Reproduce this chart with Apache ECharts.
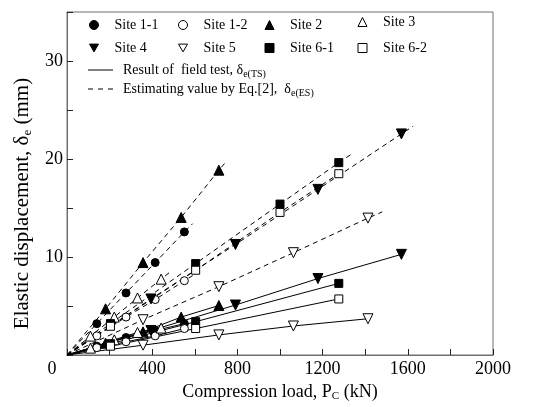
<!DOCTYPE html>
<html><head><meta charset="utf-8">
<script src="https://cdn.jsdelivr.net/npm/echarts@6/dist/echarts.min.js"></script>
<style>html,body{margin:0;padding:0;background:#fff}#c{width:546px;height:407px}</style>
</head><body><div id="c"></div>
<script>
// ---- data ----
const siteNames = ['Site 1-1','Site 1-2','Site 2','Site 3','Site 4','Site 5','Site 6-1','Site 6-2'];
const xTickLabels = [400, 800, 1200, 1600, 2000];
const yTickLabels = [10, 20, 30];

// Estimating value by Eq.[2] (dashed)
const esLoads11 = [140, 277, 414, 551];   const es11 = [3.2, 6.33, 9.43, 12.56];
const esLoads12 = [140, 277, 414, 551];   const es12 = [1.95, 3.87, 5.66, 7.58];
const esLoads2  = [181, 357, 536, 713];   const es2  = [4.71, 9.43, 14.04, 18.86];
const esLoads3  = [110, 222, 331, 442];   const es3  = [1.93, 3.87, 5.82, 7.74];
const esLoads4  = [394, 791, 1178, 1570]; const es4  = [5.72, 11.28, 16.9, 22.56];
const esLoads5  = [357, 713, 1063, 1413]; const es5  = [3.6, 6.97, 10.44, 13.97];
const esLoads61 = [204, 604, 1000, 1276]; const es61 = [3.2, 9.33, 15.4, 19.63];
const esLoads62 = [204, 604, 1000, 1276]; const es62 = [2.93, 8.65, 14.55, 18.5];
// end of each dashed line (slightly beyond last point)
const esEndLoad = [590, 590, 750, 480, 1625, 1480, 1343, 1290];
const esEndVal  = [13.4, 8.1, 19.8, 8.4, 23.35, 14.6, 20.6, 18.7];

// Result of field test (solid)
const tsLoads11 = [140, 277, 414, 551];   const ts11 = [0.9, 1.78, 2.5, 3.2];
const tsLoads12 = [140, 277, 414, 551];   const ts12 = [0.75, 1.35, 1.95, 2.7];
const tsLoads2  = [181, 357, 536, 713];   const ts2  = [1.2, 2.36, 3.87, 5.05];
const tsLoads3  = [110, 222, 331, 442];   const ts3  = [0.7, 1.55, 2.3, 2.75];
const tsLoads4  = [394, 791, 1178, 1570]; const ts4  = [2.5, 5.1, 7.8, 10.27];
const tsLoads5  = [357, 713, 1063, 1413]; const ts5  = [1.0, 2.05, 2.96, 3.7];
const tsLoads61 = [204, 604, 1276];       const ts61 = [1.15, 3.4, 7.31];
const tsLoads62 = [204, 604, 1276];       const ts62 = [0.9, 2.7, 5.72];

const esLoads = [esLoads11, esLoads12, esLoads2, esLoads3, esLoads4, esLoads5, esLoads61, esLoads62];
const esVals  = [es11, es12, es2, es3, es4, es5, es61, es62];
const tsLoads = [tsLoads11, tsLoads12, tsLoads2, tsLoads3, tsLoads4, tsLoads5, tsLoads61, tsLoads62];
const tsVals  = [ts11, ts12, ts2, ts3, ts4, ts5, ts61, ts62];

// ---- styles ----
const FONT = 'Liberation Serif';
const symbols = ['circle','circle','triangle','triangle','triangle','triangle','rect','rect'];
const filled  = [true,false,true,false,true,false,true,false];
const rotate  = [0,0,0,0,180,180,0,0];
const sizes   = [8,8,10,10,10,10,8,8];
const invTri = 'path://M0,0L10,0L5,8.66Z';
const legendIcons = ['circle','circle','triangle','triangle',invTri,invTri,'rect','rect'];
const lineIconSolid = 'path://M0,0h25v1h-25z';
const lineIconDash  = 'path://M0,0h5v1h-5zM10,0h5v1h-5zM20,0h5v1h-5z';

function itemStyleFor(i){
  return filled[i] ? {color:'#000', borderColor:'#000', borderWidth:1}
                   : {color:'#fff', borderColor:'#000', borderWidth:1};
}

const series = [];
for (let i = 0; i < siteNames.length; i++) {
  const es = [{value:[0,0], symbol:'none'}]
    .concat(esLoads[i].map((x,j)=>[x, esVals[i][j]]))
    .concat([{value:[esEndLoad[i], esEndVal[i]], symbol:'none'}]);
  const ts = [{value:[0,0], symbol:'none'}]
    .concat(tsLoads[i].map((x,j)=>[x, tsVals[i][j]]));
  const common = {
    type:'line', name: siteNames[i], symbol: symbols[i], symbolSize: sizes[i],
    symbolRotate: rotate[i], showAllSymbol: true, itemStyle: itemStyleFor(i),
    animation:false, z: 3
  };
  series.push(Object.assign({}, common, {data: es, lineStyle:{color:'#000', width:1, type:[5,4]}}));
  series.push(Object.assign({}, common, {data: ts, lineStyle:{color:'#000', width:1, type:'solid'}}));
}
series.push({type:'line', name:'TS', data:[], symbol:'none', itemStyle:{color:'#000'}, lineStyle:{color:'#000', width:1}});
series.push({type:'line', name:'ES', data:[], symbol:'none', itemStyle:{color:'#000'}, lineStyle:{color:'#000', width:1, type:[5,4]}});

const LFS = 14;
const subRich = {
  t:{fontFamily:FONT, fontSize:LFS, color:'#000', verticalAlign:'middle', padding:[0,0,0,5]},
  b:{fontFamily:FONT, fontSize:LFS, color:'#000', verticalAlign:'middle'},
  s:{fontFamily:FONT, fontSize:10, color:'#000', verticalAlign:'middle', padding:[8,0,0,0]}
};
const siteRich = {
  t:{fontFamily:FONT, fontSize:LFS, color:'#000', verticalAlign:'middle', padding:[0,0,0,11]}
};

const legendX = [89, 178, 264.5, 357.5];
const legendY = [18, 41];
const legends = [];
for (let i = 0; i < siteNames.length; i++) {
  const col = i % 4, row = Math.floor(i / 4);
  legends.push({
    left: legendX[col], top: legendY[row] - (i === 3 ? 3 : 0), padding: 0,
    itemWidth: 9, itemHeight: 9, selectedMode: false,
    data: [{name: siteNames[i], icon: legendIcons[i], itemStyle: itemStyleFor(i)}],
    formatter: n => '{t|' + n + '}',
    textStyle: {fontFamily: FONT, fontSize: LFS, color: '#000', rich: siteRich}
  });
}
legends.push({
  left: 88, top: 63, padding: 0, itemWidth: 25, itemHeight: 1, selectedMode:false,
  data: [{name:'TS', icon: lineIconSolid, itemStyle:{color:'#000', borderWidth:0}}],
  formatter: () => '{t|Result of  field test, δ}{s|e(TS)}',
  textStyle: {fontFamily: FONT, fontSize: LFS, color: '#000', rich: subRich}
});
legends.push({
  left: 88, top: 82, padding: 0, itemWidth: 25, itemHeight: 1, selectedMode:false,
  data: [{name:'ES', icon: lineIconDash, itemStyle:{color:'#000', borderWidth:0}}],
  formatter: () => '{t|Estimating value by Eq.[2],  δ}{s|e(ES)}',
  textStyle: {fontFamily: FONT, fontSize: LFS, color: '#000', rich: subRich}
});

const xRich = {
  b:{fontFamily:FONT, fontSize:18, color:'#000', verticalAlign:'middle'},
  s:{fontFamily:FONT, fontSize:11, color:'#000', verticalAlign:'middle', padding:[9,0,0,0]}
};
const yRich = {
  b:{fontFamily:FONT, fontSize:21, color:'#000', verticalAlign:'middle'},
  s:{fontFamily:FONT, fontSize:13, color:'#000', verticalAlign:'middle', padding:[10,0,0,0]}
};

const option = {
  backgroundColor:'#fff',
  animation:false,
  grid:{left:67, right:53, top:12, bottom:50, show:true, borderColor:'#6e6e6e', borderWidth:1, containLabel:false},
  legend: legends,
  xAxis:{
    type:'value', min:0, max:2000, interval:200,
    name:'{b|Compression load, P}{s|C}{b| (kN)}', nameLocation:'middle', nameGap:27,
    nameTextStyle:{fontFamily:FONT, fontSize:18, color:'#000', rich:xRich},
    axisLine:{show:true, lineStyle:{color:'#6e6e6e', width:1}},
    axisTick:{show:true, inside:true, length:6, lineStyle:{color:'#222'}},
    splitLine:{show:false},
    axisLabel:{
      interval:0, showMinLabel:true, showMaxLabel:true, margin:5,
      fontFamily:FONT, fontSize:18, color:'#000',
      formatter: v => v === 0 ? '{o|0}' : (xTickLabels.indexOf(v) >= 0 ? String(v) : ''),
      rich:{o:{fontFamily:FONT, fontSize:18, color:'#000', padding:[0,30,0,0]}}
    }
  },
  yAxis:{
    type:'value', min:0, max:35, interval:5,
    name:'{b|Elastic displacement, δ}{s|e}{b| (mm)}', nameLocation:'middle', nameGap:31,
    nameTextStyle:{fontFamily:FONT, fontSize:21, color:'#000', rich:yRich, padding:[0,40,0,0]},
    axisLine:{show:true, lineStyle:{color:'#6e6e6e', width:1}},
    axisTick:{show:true, inside:true, length:6, lineStyle:{color:'#222'}},
    splitLine:{show:false},
    axisLabel:{
      interval:0, margin:4, fontFamily:FONT, fontSize:18, color:'#000',
      formatter: v => (yTickLabels.indexOf(v) >= 0 ? String(v) : '')
    }
  },
  series: series
};
const chart = echarts.init(document.getElementById('c'), null, {renderer:'canvas'});
chart.setOption(option);
</script>
</body></html>
